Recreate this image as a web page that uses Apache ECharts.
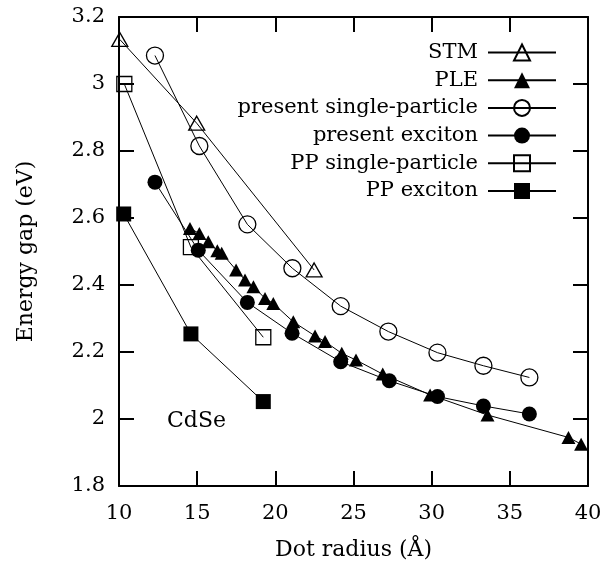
<!DOCTYPE html>
<html>
<head>
<meta charset="utf-8">
<script src="https://cdn.jsdelivr.net/npm/echarts@6/dist/echarts.min.js"></script>
<style>html,body{margin:0;padding:0;background:#fff}#c{width:613px;height:573px}</style>
</head>
<body>
<div id="c"></div>
<script>
// ---- data (x: dot radius in Å, y: energy gap in eV) ----
const seriesNames = ['STM', 'PLE', 'present single-particle', 'present exciton', 'PP single-particle', 'PP exciton'];
const stm = [[10.05, 3.133], [14.97, 2.883], [22.48, 2.445]];
const ple = [[14.54, 2.569], [15.14, 2.554], [15.71, 2.529], [16.29, 2.502], [16.57, 2.495], [17.49, 2.445],
             [18.06, 2.415], [18.6, 2.395], [19.34, 2.36], [19.87, 2.345], [21.15, 2.29], [22.54, 2.248],
             [23.18, 2.231], [24.25, 2.196], [25.16, 2.176], [26.87, 2.134], [29.9, 2.072], [33.57, 2.012],
             [38.75, 1.945], [39.56, 1.925]];
const presentSingle = [[12.3, 3.085], [15.14, 2.815], [18.21, 2.581], [21.09, 2.45], [24.18, 2.337],
                       [27.23, 2.261], [30.37, 2.198], [33.31, 2.159], [36.25, 2.124]];
const presentExciton = [[12.3, 2.707], [15.07, 2.504], [18.21, 2.348], [21.07, 2.256], [24.18, 2.171],
                        [27.29, 2.114], [30.37, 2.067], [33.31, 2.039], [36.25, 2.015]];
const ppSingle = [[10.34, 3.0], [14.6, 2.513], [19.23, 2.244]];
const ppExciton = [[10.3, 2.612], [14.6, 2.254], [19.23, 2.052]];
const annotation = 'CdSe';

const FONT = 'DejaVu Serif';
const BLACK = '#000';
const axisBase = {
  axisLine: { show: true, onZero: false, lineStyle: { color: BLACK, width: 2 } },
  axisTick: { show: true, inside: true, length: 15, lineStyle: { color: BLACK, width: 2 } },
  splitLine: { show: false }
};

function mk(name, data, symbol, size, filled) {
  return {
    name: name, type: 'line', data: data, symbol: symbol, symbolSize: size,
    showAllSymbol: true, animation: false,
    lineStyle: { color: BLACK, width: 1 },
    itemStyle: filled ? { color: BLACK, borderWidth: 0 }
                      : { color: 'rgba(0,0,0,0)', borderColor: BLACK, borderWidth: 1.3 },
    emphasis: { disabled: true }
  };
}

const chart = echarts.init(document.getElementById('c'), null, { renderer: 'canvas' });
chart.setOption({
  animation: false,
  backgroundColor: '#fff',
  grid: { left: 119, right: 25, top: 17, bottom: 87 },
  xAxis: [
    Object.assign({}, axisBase, {
      type: 'value', min: 10, max: 40, interval: 5, position: 'bottom',
      axisLabel: { margin: 17, color: BLACK, fontFamily: FONT, fontSize: 21 },
      name: 'Dot radius (Å)', nameLocation: 'middle', nameGap: 53,
      nameTextStyle: { color: BLACK, fontFamily: FONT, fontSize: 22 }
    }),
    Object.assign({}, axisBase, {
      type: 'value', min: 10, max: 40, interval: 5, position: 'top', axisLabel: { show: false }
    })
  ],
  yAxis: [
    Object.assign({}, axisBase, {
      type: 'value', min: 1.8, max: 3.2, interval: 0.2, position: 'left',
      axisLabel: { margin: 14, color: BLACK, fontFamily: FONT, fontSize: 21,
                   formatter: v => String(+v.toFixed(1)) },
      name: 'Energy gap (eV)', nameLocation: 'middle', nameGap: 82,
      nameTextStyle: { color: BLACK, fontFamily: FONT, fontSize: 22 }
    }),
    Object.assign({}, axisBase, {
      type: 'value', min: 1.8, max: 3.2, interval: 0.2, position: 'right', axisLabel: { show: false }
    })
  ],
  legend: {
    data: seriesNames, orient: 'vertical', align: 'right', right: 51, top: 37,
    itemWidth: 68, itemHeight: 20, itemGap: 6.7, selectedMode: false,
    textStyle: { color: BLACK, fontFamily: FONT, fontSize: 21, lineHeight: 20, padding: [0, 5, 0, 0] }
  },
  graphic: [{
    type: 'text', left: 167, top: 410,
    style: { text: annotation, fill: BLACK, font: '22px "DejaVu Serif"' }
  }],
  series: [
    mk(seriesNames[0], stm, 'triangle', [16, 14], false),
    mk(seriesNames[1], ple, 'triangle', [14, 13], true),
    mk(seriesNames[2], presentSingle, 'circle', 17, false),
    mk(seriesNames[3], presentExciton, 'circle', 15, true),
    mk(seriesNames[4], ppSingle, 'rect', 15, false),
    mk(seriesNames[5], ppExciton, 'rect', 15, true)
  ]
});
</script>
</body>
</html>
